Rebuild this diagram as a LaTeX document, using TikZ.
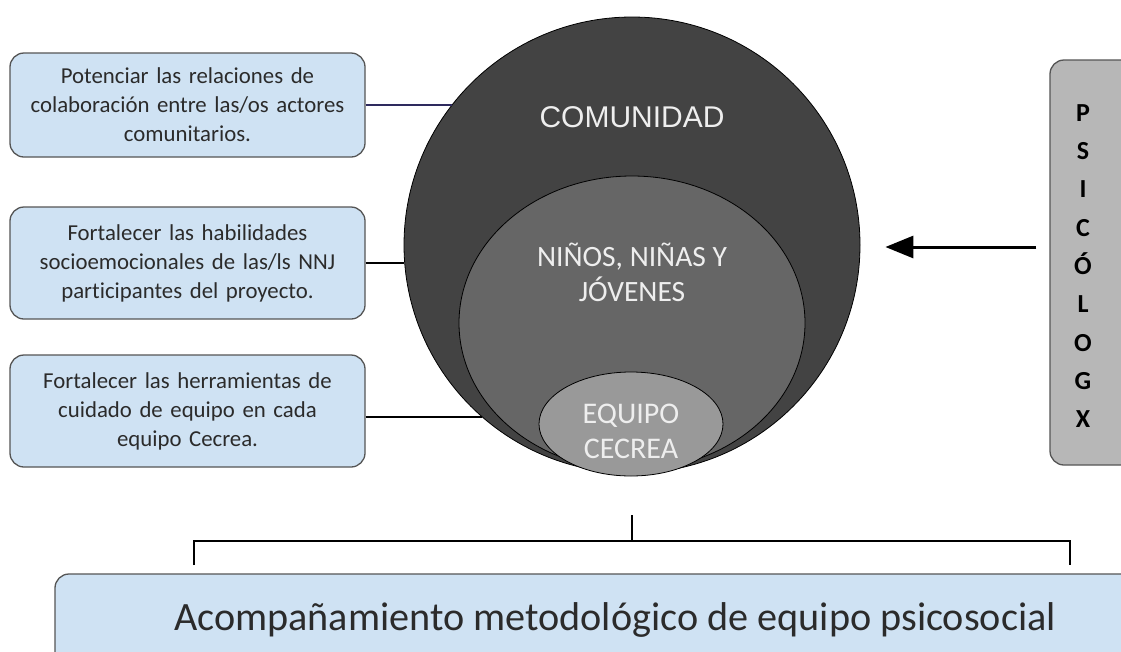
\documentclass[tikz,border=0pt]{standalone}
\usepackage{fontspec}
\setmainfont{Carlito}[Ligatures=NoCommon]
\newfontfamily\arialfont{Liberation Sans}
\usetikzlibrary{shapes.geometric,arrows.meta}
\definecolor{boxblue}{HTML}{CFE2F3}
\definecolor{boxedge}{HTML}{555555}
\definecolor{comfill}{HTML}{434343}
\definecolor{nnjfill}{HTML}{666666}
\definecolor{eqfill}{HTML}{999999}
\definecolor{psfill}{HTML}{B7B7B7}
\definecolor{lighttext}{HTML}{EEEEEE}
\definecolor{navyline}{HTML}{2E2A5E}
\definecolor{boxtext}{HTML}{2B2B2B}
\tikzset{
  goalbox/.style={draw=boxedge, line width=1.3pt, fill=boxblue, rounded corners=14pt,
    minimum width=355pt, text width=345pt, align=center, inner sep=0pt,
    font=\fontsize{22.8}{29}\selectfont, text=boxtext},
  disc/.style={draw=black, line width=0.8pt, inner sep=0pt},
  lighttxt/.style={text=lighttext, align=center, inner sep=0pt},
  link/.style={line width=1.6pt},
  bracket/.style={line width=1.6pt, black}
}
\begin{document}
\begin{tikzpicture}[x=1pt,y=-1pt]
\useasboundingbox (0,0) rectangle (1121,651);
\clip (0,0) rectangle (1121,651);

% left boxes
\node[goalbox, minimum height=104pt] (b1) at (187.5,105) {Potenciar las relaciones de\\colaboración entre las/os actores\\comunitarios.};
\node[goalbox, minimum height=112pt] (b2) at (187.5,263) {Fortalecer las habilidades\\socioemocionales de las/ls NNJ\\participantes del proyecto.};
\node[goalbox, minimum height=112pt] (b3) at (187.5,411) {Fortalecer las herramientas de\\cuidado de equipo en cada\\equipo Cecrea.};

% nested discs
\node[disc, circle, fill=comfill, minimum size=456pt] (com) at (632,245) {};
\node[disc, ellipse, fill=nnjfill, minimum width=346pt, minimum height=294pt] (nnj) at (632,323) {};
\node[disc, ellipse, fill=eqfill, minimum width=184pt, minimum height=104pt] (eq) at (631,424) {};

\node[lighttxt, font=\arialfont\fontsize{30}{34}\selectfont] (comt) at (632,117) {COMUNIDAD};
\node[lighttxt, font=\fontsize{29.5}{35}\selectfont] (nnjt) at (632,272) {NIÑOS, NIÑAS Y\\JÓVENES};
\node[lighttxt, font=\fontsize{30}{35}\selectfont] (eqt) at (631,431) {EQUIPO\\CECREA};

% connectors from boxes
\draw[link, navyline] (b1.east) -- (b1.east -| com.142);
\draw[link] (b2.east) -- (b2.east -| com.184);
\draw[link] ([yshift=-6pt]b3.east) -- ([yshift=-6pt]b3.east -| com.229);

% psicologx box
\node[draw=boxedge, line width=1.3pt, fill=psfill, rounded corners=14pt,
  minimum width=120pt, minimum height=405pt, inner sep=0pt] (ps) at (1110,262.5) {};
\node[align=center, inner sep=0pt, font=\bfseries\fontsize{26}{38.3}\selectfont] (pst) at (1083,266)
  {P\\S\\I\\C\\Ó\\L\\O\\G\\X};
\coordinate (as) at ([xshift=-13pt]ps.west);
\coordinate (at) at ([xshift=25pt,yshift=-2pt]com.east);
\draw[line width=3pt, -{Triangle[length=28pt, width=22pt]}] (as |- at) -- (at);

% bottom bracket
\coordinate (top) at (632,515);
\coordinate (mid) at (632,541);
\coordinate (lft) at (194,541);
\coordinate (rgt) at (1070,541);
\coordinate (lftend) at (194,565);
\coordinate (rgtend) at (1070,565);
\draw[bracket] (top) -- (mid);
\draw[bracket] (lftend) -- (lft) -- (rgt) -- (rgtend);

% bottom box
\node[draw=boxedge, line width=1.3pt, fill=boxblue, rounded corners=14pt,
  minimum width=1110pt, minimum height=120pt, inner sep=0pt] (acb) at (610,634) {};
\node[inner sep=0pt, font=\fontsize{40.2}{46}\selectfont, text=boxtext] (act) at (615,620)
  {Acompañamiento metodológico de equipo psicosocial};
\end{tikzpicture}
\end{document}
